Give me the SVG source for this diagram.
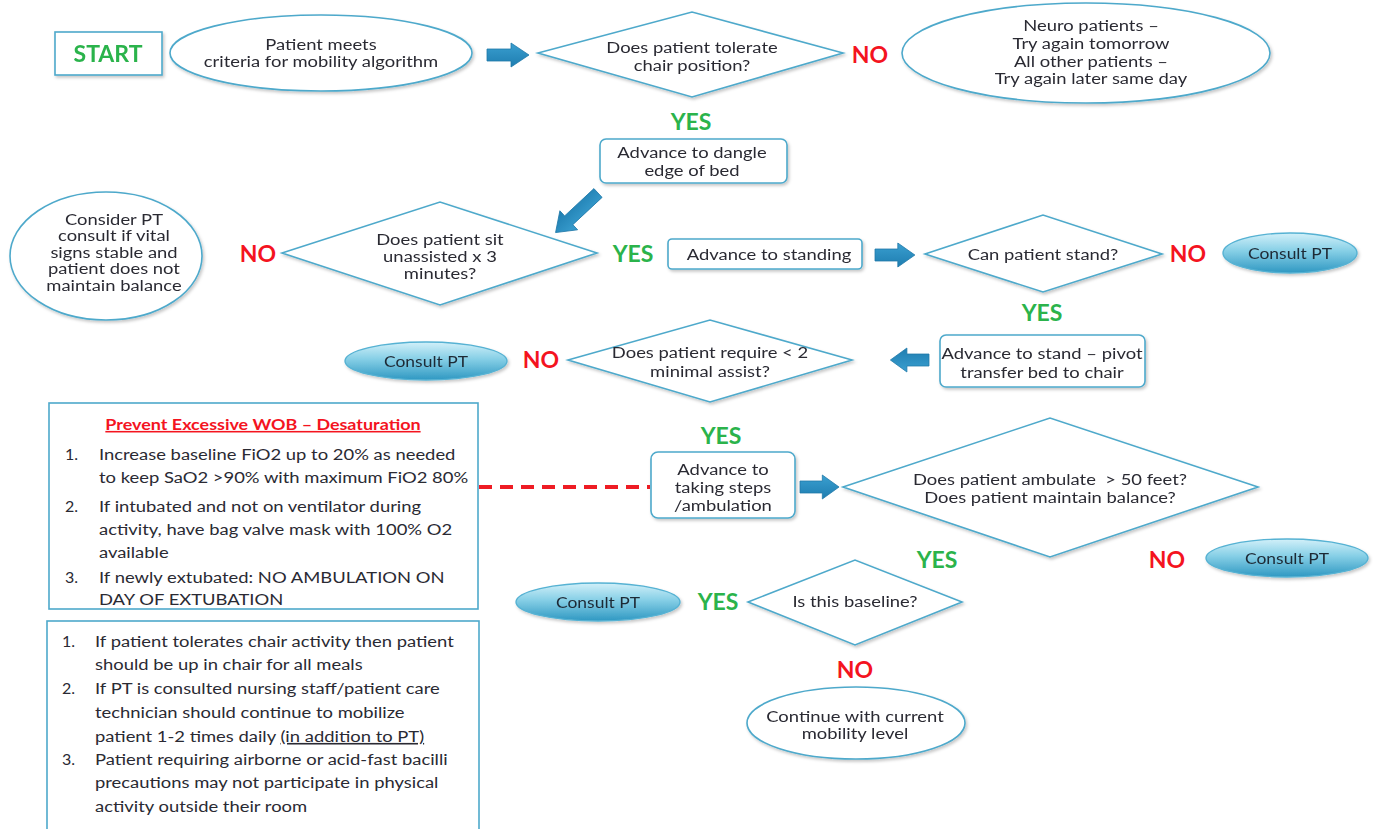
<svg xmlns="http://www.w3.org/2000/svg" width="1395" height="829" viewBox="0 0 1395 829">
<style>
  .t{font-family:Lato,"Liberation Sans",sans-serif;font-size:16px;fill:#2a2a33;text-anchor:middle}
  .l{font-family:Lato,"Liberation Sans",sans-serif;font-size:16px;fill:#2a2a33}
  .p{font-family:Lato,"Liberation Sans",sans-serif;font-size:15.2px;fill:#1f2a36;text-anchor:middle}
  .n{fill:#fff;stroke:#4ea9cb;stroke-width:1.6}
  .pt{fill:url(#ptg);stroke:#56b2d3;stroke-width:1.4}
  .yes{font-family:Lato,"Liberation Sans",sans-serif;font-weight:bold;font-size:23px;fill:#2bb34b;text-anchor:middle}
  .no{font-family:Lato,"Liberation Sans",sans-serif;font-weight:bold;font-size:23px;fill:#f4141f;text-anchor:middle}
  .arr{fill:url(#ag);stroke:#1f78a8;stroke-width:0.8}
</style>
<defs>
  <linearGradient id="ptg" x1="0" y1="0" x2="0" y2="1">
    <stop offset="0" stop-color="#d2f0f9"/>
    <stop offset="0.45" stop-color="#86cfe6"/>
    <stop offset="1" stop-color="#2f98c2"/>
  </linearGradient>
  <linearGradient id="ag" x1="0" y1="0" x2="0" y2="1">
    <stop offset="0" stop-color="#3a9fd0"/>
    <stop offset="1" stop-color="#1e7db0"/>
  </linearGradient>
  <filter id="sh" x="-10%" y="-10%" width="125%" height="130%">
    <feDropShadow dx="1.5" dy="2" stdDeviation="1.5" flood-color="#000" flood-opacity="0.22"/>
  </filter>
  <path id="ar" d="M0,-6 H24 V-12 L42,0 L24,12 V6 H0 Z"/>
</defs>
<rect width="1395" height="829" fill="#fff"/>

<g id="connectors">
  <use href="#ar" class="arr" transform="translate(487,55)"/>
  <path class="arr" d="M0,-6 H40 V-13 L58,0 L40,13 V6 H0 Z" transform="translate(598,193) rotate(137)"/>
  <use href="#ar" class="arr" transform="translate(875,255) scale(0.95,1)"/>
  <use href="#ar" class="arr" transform="translate(929,360) rotate(180) scale(0.92,1)"/>
  <use href="#ar" class="arr" transform="translate(800,487) scale(0.93,1)"/>
  <line x1="479" y1="487" x2="650" y2="487" stroke="#ee1c24" stroke-width="4" stroke-dasharray="13,8"/>
  <g id="labels">
    <text class="no" x="870" y="63">NO</text>
    <text class="yes" x="691" y="130">YES</text>
    <text class="no" x="258" y="262">NO</text>
    <text class="yes" x="633" y="262">YES</text>
    <text class="no" x="1188" y="262">NO</text>
    <text class="yes" x="1042" y="321">YES</text>
    <text class="no" x="541" y="368">NO</text>
    <text class="yes" x="721" y="444">YES</text>
    <text class="yes" x="937" y="568">YES</text>
    <text class="no" x="1167" y="568">NO</text>
    <text class="yes" x="718" y="610">YES</text>
    <text class="no" x="855" y="678">NO</text>
  </g>
</g>

<g id="start" filter="url(#sh)">
  <rect class="n" x="55" y="32" width="107" height="43"/>
  <text x="108" y="62" style="font-family:Lato,'Liberation Sans',sans-serif;font-weight:bold;font-size:23px;fill:#2bb34b;text-anchor:middle">START</text>
</g>

<g id="criteria" filter="url(#sh)">
  <ellipse class="n" cx="321" cy="53" rx="151" ry="38"/>
  <text class="t" transform="matrix(1.15 0 0 1 -48.15 0)"><tspan x="321" y="50">Patient meets</tspan><tspan x="321" y="67">criteria for mobility algorithm</tspan></text>
</g>

<g id="tolerate-chair" filter="url(#sh)">
  <polygon class="n" points="538,53 692,12 843,53 692,97"/>
  <text class="t" transform="matrix(1.15 0 0 1 -103.8 0)"><tspan x="692" y="53">Does patient tolerate</tspan><tspan x="692" y="71">chair position?</tspan></text>
</g>

<g id="try-again" filter="url(#sh)">
  <ellipse class="n" cx="1086" cy="53" rx="184" ry="50"/>
  <text class="t" transform="matrix(1.15 0 0 1 -163.65 0)"><tspan x="1091" y="31">Neuro patients –</tspan><tspan x="1091" y="49">Try again tomorrow</tspan><tspan x="1091" y="67">All other patients –</tspan><tspan x="1091" y="84">Try again later same day</tspan></text>
</g>

<g id="dangle" filter="url(#sh)">
  <rect class="n" x="600" y="139" width="187" height="44" rx="6"/>
  <text class="t" transform="matrix(1.15 0 0 1 -103.8 0)"><tspan x="692" y="158">Advance to dangle</tspan><tspan x="692" y="176">edge of bed</tspan></text>
</g>

<g id="consider-pt" filter="url(#sh)">
  <ellipse class="n" cx="106" cy="256" rx="96" ry="64"/>
  <text class="t" style="font-size:15px" transform="matrix(1.2267 0 0 1 -25.84 0)"><tspan x="114" y="225">Consider PT</tspan><tspan x="114" y="241.5">consult if vital</tspan><tspan x="114" y="258">signs stable and</tspan><tspan x="114" y="274.5">patient does not</tspan><tspan x="114" y="291">maintain balance</tspan></text>
</g>

<g id="sit-unassisted" filter="url(#sh)">
  <polygon class="n" points="282,253 440,202 597,253 440,305"/>
  <text class="t" transform="matrix(1.15 0 0 1 -66 0)"><tspan x="440" y="245">Does patient sit</tspan><tspan x="440" y="262">unassisted x 3</tspan><tspan x="440" y="279">minutes?</tspan></text>
</g>

<g id="standing" filter="url(#sh)">
  <rect class="n" x="668" y="239" width="194" height="30" rx="4"/>
  <text class="t" x="769" y="260" transform="matrix(1.15 0 0 1 -115.35 0)">Advance to standing</text>
</g>

<g id="can-stand" filter="url(#sh)">
  <polygon class="n" points="925,254 1043,215 1162,254 1043,292"/>
  <text class="t" x="1043" y="260" transform="matrix(1.15 0 0 1 -156.45 0)">Can patient stand?</text>
</g>

<g id="consult-pt-1" filter="url(#sh)">
  <ellipse class="pt" cx="1290" cy="253" rx="67" ry="20"/>
  <text class="p" x="1290" y="259" transform="matrix(1.15 0 0 1 -193.5 0)">Consult PT</text>
</g>

<g id="pivot" filter="url(#sh)">
  <rect class="n" x="940" y="335" width="205" height="52" rx="6"/>
  <text class="t" transform="matrix(1.15 0 0 1 -156.3 0)"><tspan x="1042" y="359">Advance to stand – pivot</tspan><tspan x="1042" y="378">transfer bed to chair</tspan></text>
</g>

<g id="minimal-assist" filter="url(#sh)">
  <polygon class="n" points="568,360 710,320 852,360 710,402"/>
  <text class="t" transform="matrix(1.15 0 0 1 -106.5 0)"><tspan x="710" y="358">Does patient require &lt; 2</tspan><tspan x="710" y="377">minimal assist?</tspan></text>
</g>

<g id="consult-pt-2" filter="url(#sh)">
  <ellipse class="pt" cx="426" cy="361" rx="81" ry="19"/>
  <text class="p" x="426" y="367" transform="matrix(1.15 0 0 1 -63.9 0)">Consult PT</text>
</g>

<g id="wob-box">
  <rect x="49" y="403" width="429" height="206" fill="#fff" stroke="#4ea9cb" stroke-width="1.6"/>
  <text x="263" y="430" text-decoration="underline" transform="matrix(1.15 0 0 1 -39.45 0)" style="font-family:Lato,'Liberation Sans',sans-serif;font-weight:bold;font-size:15.6px;fill:#f4141f;text-anchor:middle">Prevent Excessive WOB – Desaturation</text>
  <text class="l" x="65" y="460">1.</text>
  <text class="l" x="65" y="512">2.</text>
  <text class="l" x="65" y="583">3.</text>
  <g transform="matrix(1.15 0 0 1 -14.85 0)">
    <text class="l"><tspan x="99" y="460">Increase baseline FiO2 up to 20% as needed</tspan><tspan x="99" y="483">to keep SaO2 &gt;90% with maximum FiO2 80%</tspan></text>
    <text class="l"><tspan x="99" y="512">If intubated and not on ventilator during</tspan><tspan x="99" y="535">activity, have bag valve mask with 100% O2</tspan><tspan x="99" y="558">available</tspan></text>
    <text class="l"><tspan x="99" y="583">If newly extubated: NO AMBULATION ON</tspan><tspan x="99" y="605">DAY OF EXTUBATION</tspan></text>
  </g>
</g>

<g id="ambulation" filter="url(#sh)">
  <rect class="n" x="651" y="452" width="144" height="66" rx="7"/>
  <text class="t" transform="matrix(1.15 0 0 1 -108.45 0)"><tspan x="723" y="475">Advance to</tspan><tspan x="723" y="493">taking steps</tspan><tspan x="723" y="511">/ambulation</tspan></text>
</g>

<g id="ambulate-50" filter="url(#sh)">
  <polygon class="n" points="843,487 1050,418 1258,487 1050,557"/>
  <text class="t" xml:space="preserve" transform="matrix(1.15 0 0 1 -157.5 0)"><tspan x="1050" y="485">Does patient ambulate  &gt; 50 feet?</tspan><tspan x="1050" y="503">Does patient maintain balance?</tspan></text>
</g>

<g id="consult-pt-3" filter="url(#sh)">
  <ellipse class="pt" cx="1287" cy="558" rx="81" ry="19"/>
  <text class="p" x="1287" y="564" transform="matrix(1.15 0 0 1 -193.05 0)">Consult PT</text>
</g>

<g id="baseline" filter="url(#sh)">
  <polygon class="n" points="748,602 855,560 962,602 855,645"/>
  <text class="t" x="855" y="607" transform="matrix(1.15 0 0 1 -128.25 0)">Is this baseline?</text>
</g>

<g id="consult-pt-4" filter="url(#sh)">
  <ellipse class="pt" cx="598" cy="602" rx="82" ry="19"/>
  <text class="p" x="598" y="608" transform="matrix(1.15 0 0 1 -89.7 0)">Consult PT</text>
</g>

<g id="continue" filter="url(#sh)">
  <ellipse class="n" cx="856" cy="723" rx="109" ry="36"/>
  <text class="t" transform="matrix(1.15 0 0 1 -128.25 0)"><tspan x="855" y="722">Continue with current</tspan><tspan x="855" y="739">mobility level</tspan></text>
</g>

<g id="notes-box">
  <rect x="47" y="621" width="432" height="230" fill="#fff" stroke="#4ea9cb" stroke-width="1.6"/>
  <text class="l" x="62" y="647">1.</text>
  <text class="l" x="62" y="694">2.</text>
  <text class="l" x="62" y="765">3.</text>
  <g transform="matrix(1.15 0 0 1 -14.25 0)">
    <text class="l"><tspan x="95" y="647">If patient tolerates chair activity then patient</tspan><tspan x="95" y="670">should be up in chair for all meals</tspan></text>
    <text class="l"><tspan x="95" y="694">If PT is consulted nursing staff/patient care</tspan><tspan x="95" y="718">technician should continue to mobilize</tspan><tspan x="95" y="742">patient 1-2 times daily <tspan text-decoration="underline">(in addition to PT)</tspan></tspan></text>
    <text class="l"><tspan x="95" y="765">Patient requiring airborne or acid-fast bacilli</tspan><tspan x="95" y="788">precautions may not participate in physical</tspan><tspan x="95" y="812">activity outside their room</tspan></text>
  </g>
</g>
</svg>
